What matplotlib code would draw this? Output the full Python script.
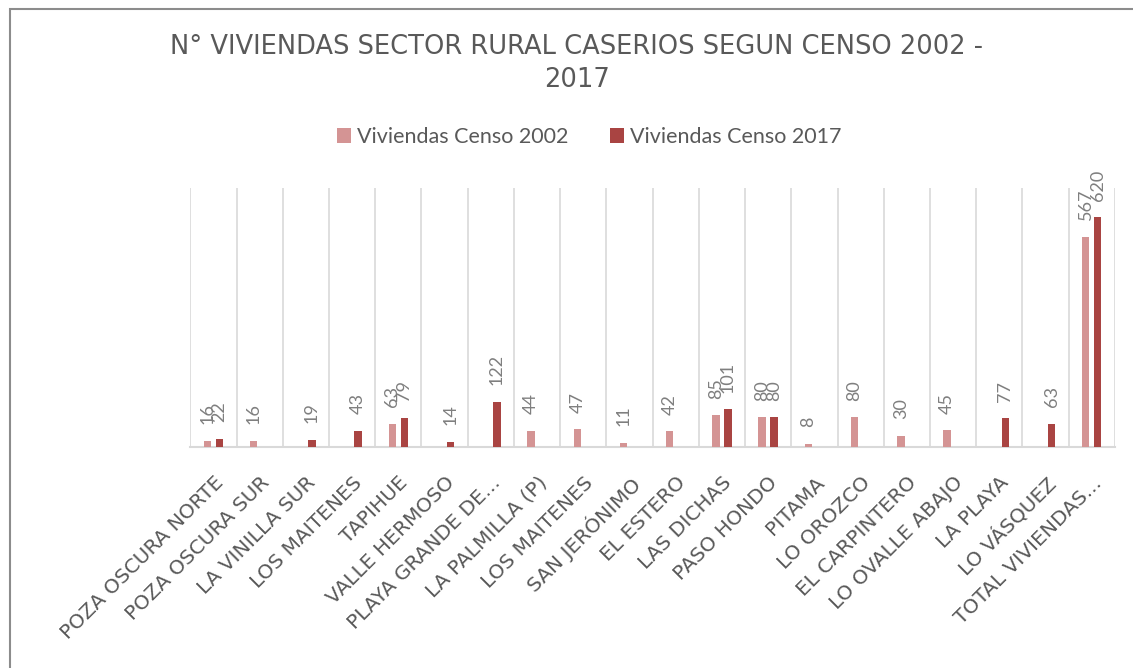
import numpy as np
import matplotlib
matplotlib.use("Agg")
import matplotlib.pyplot as plt
from matplotlib.patches import Rectangle

categories = ["POZA OSCURA NORTE", "POZA OSCURA SUR", "LA VINILLA SUR", "LOS MAITENES",
              "TAPIHUE", "VALLE HERMOSO", "PLAYA GRANDE DE...", "LA PALMILLA (P)",
              "LOS MAITENES", "SAN JERÓNIMO", "EL ESTERO", "LAS DICHAS", "PASO HONDO",
              "PITAMA", "LO OROZCO", "EL CARPINTERO", "LO OVALLE ABAJO", "LA PLAYA",
              "LO VÁSQUEZ", "TOTAL VIVIENDAS..."]
censo_2002 = [16, 16, None, None, 63, None, None, 44, 47, 11, 42, 85, 80, 8, 80, 30, 45,
              None, None, 567]
censo_2017 = [22, None, 19, 43, 79, 14, 122, None, None, None, None, 101, 80, None, None,
              None, None, 77, 63, 620]
series = [("Viviendas Censo 2002", censo_2002, "#D49494"),
          ("Viviendas Censo 2017", censo_2017, "#A94442")]

plt.rcParams["font.family"] = ["Lato", "DejaVu Sans"]
GRAY = "#595959"

fig = plt.figure(figsize=(11.33, 6.68), dpi=100)
ax = fig.add_axes([0.168, 0.331, 0.816, 0.388])

x = np.arange(len(categories))
w = 0.16
offsets = [-0.13, 0.13]
for (name, vals, col), off in zip(series, offsets):
    v = np.array([np.nan if a is None else a for a in vals], dtype=float)
    ax.bar(x + off, v, width=w, color=col, label=name, zorder=3)
    for xi, val in zip(x, v):
        if np.isnan(val):
            continue
        ax.annotate(f"{int(val)}", (xi + off, val), xytext=(0, 12), textcoords="offset points",
                    rotation=90, ha="center", va="bottom", fontsize=13, color="#7F7F7F",
                    zorder=4)

ax.set_xlim(-0.5, len(categories) - 0.5)
ax.set_ylim(0, 700)
ax.set_yticks([])
for b in np.arange(-0.5, len(categories), 1.0):
    ax.axvline(b, color="#D9D9D9", lw=1.2, zorder=1)
for s in ["top", "right", "left"]:
    ax.spines[s].set_visible(False)
ax.spines["bottom"].set_color("#D9D9D9")
ax.spines["bottom"].set_linewidth(1.5)
ax.set_xticks(x)
ax.set_xticklabels(categories, rotation=45, ha="right", rotation_mode="anchor",
                   fontsize=14.5, color=GRAY, family="DejaVu Sans")
ax.tick_params(axis="x", length=0, pad=19)

fig.text(0.509, 0.930, "N° VIVIENDAS SECTOR RURAL CASERIOS SEGUN CENSO 2002 -",
         ha="center", va="center", fontsize=18.5, color=GRAY, family="DejaVu Sans")
fig.text(0.509, 0.880, "2017", ha="center", va="center", fontsize=18.5, color=GRAY,
         family="DejaVu Sans")
fig.legend(loc="center", bbox_to_anchor=(0.52, 0.795), ncol=2, frameon=False,
           fontsize=15.5, labelcolor=GRAY, handlelength=0.65, handleheight=0.65,
           handletextpad=0.3, columnspacing=1.9)

fig.patches.append(Rectangle((10 / 1133, -0.05), 1.1, 1 - 9 / 668 + 0.05,
                             transform=fig.transFigure, fill=False,
                             edgecolor="#8C8C8C", lw=1.5))

fig.savefig("out.png", dpi=100)
